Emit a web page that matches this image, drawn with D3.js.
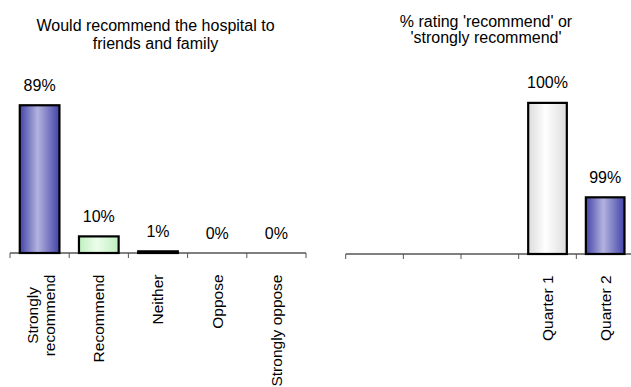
<!DOCTYPE html>
<html>
<head>
<meta charset="utf-8">
<script src="https://cdn.jsdelivr.net/npm/d3@7/dist/d3.min.js"></script>
<style>
	html, body { margin: 0; padding: 0; background: #fff; }
	svg { display: block; }
	text { font-family: Arial, "Liberation Sans", sans-serif; fill: #000; }
</style>
</head>
<body>
<div id="chart"></div>
<script>
// left chart data
const answerLabels = ['Strongly recommend', 'Recommend', 'Neither', 'Oppose', 'Strongly oppose'];
const answerValues = [89, 10, 1, 0, 0];
const answerFills = ['blue', 'green', 'blue', 'blue', 'blue'];

// right chart data (first three slots are empty)
const quarterLabels = ['', '', '', 'Quarter 1', 'Quarter 2'];
const quarterValues = [null, null, null, 100, 99];
const quarterFills = ['grey', 'grey', 'grey', 'grey', 'blue'];

const leftTitle = ['Would recommend the hospital to', 'friends and family'];
const rightTitle = ["% rating 'recommend' or", "'strongly recommend'"];

const W = 631, H = 387;
const FS = '16px';
const CAT_FS = '15.5px';
const svg = d3.select('#chart').append('svg')
	.attr('width', W)
	.attr('height', H);

const defs = svg.append('defs');
const addGrad = (id, edge, mid) => {
	const g = defs.append('linearGradient').attr('id', id)
		.attr('x1', '0%').attr('x2', '100%').attr('y1', '0%').attr('y2', '0%');
	g.append('stop').attr('offset', '0%').attr('stop-color', edge);
	g.append('stop').attr('offset', '45%').attr('stop-color', mid);
	g.append('stop').attr('offset', '100%').attr('stop-color', edge);
};
addGrad('blue', '#4343a8', '#b3b3e0');
addGrad('green', '#bff0bf', '#ecfdec');
addGrad('grey', '#dcdcdc', '#ffffff');

const drawPanel = ({ labels, values, fills, title, x0, x1, yBase, yDomain, yTop, titleX, titleY, titleGap }) => {
	const g = svg.append('g');
	const keys = labels.map((d, i) => i);
	const x = d3.scaleBand().domain(keys).range([x0, x1]).padding(0);
	const y = d3.scaleLinear().domain(yDomain).range([yBase, yTop]);
	const bw = x.bandwidth();
	const barW = bw * 0.67;

	// title
	const t = g.append('text')
		.attr('text-anchor', 'middle')
		.style('font-size', FS);
	title.forEach((line, i) => {
		t.append('tspan').attr('x', titleX).attr('y', titleY + i * titleGap).text(line);
	});

	// bars
	const data = keys.filter(i => values[i] !== null);
	g.selectAll('rect.bar')
		.data(data)
		.join('rect')
		.attr('class', 'bar')
		.attr('x', i => x(i) + (bw - barW) / 2)
		.attr('width', barW)
		.attr('y', i => y(values[i]))
		.attr('height', i => Math.max(0, yBase - y(values[i])))
		.attr('fill', i => `url(#${fills[i]})`)
		.attr('stroke', '#000')
		.attr('stroke-width', i => values[i] === yDomain[0] ? 0 : 2.2);

	// value labels
	g.selectAll('text.val')
		.data(data)
		.join('text')
		.attr('class', 'val')
		.attr('x', i => x(i) + bw / 2)
		.attr('y', i => y(values[i]) - 14.5)
		.attr('text-anchor', 'middle')
		.style('font-size', FS)
		.text(i => values[i] + '%');

	// axis: line plus ticks at category boundaries
	const axis = g.append('g').attr('transform', `translate(0,${yBase})`);
	axis.append('line')
		.attr('x1', x0).attr('x2', x1)
		.attr('stroke', '#000').attr('stroke-width', 1);
	const bounds = keys.map(i => x(i)).concat([x1]);
	axis.selectAll('line.tick')
		.data(bounds)
		.join('line')
		.attr('class', 'tick')
		.attr('x1', d => d).attr('x2', d => d)
		.attr('y1', 0).attr('y2', 5)
		.attr('stroke', '#555').attr('stroke-width', 1);

	// rotated category labels, centred as a block, longest line starting near the axis
	const labTop = yBase + 21.5;
	const lab = g.selectAll('text.cat')
		.data(keys.filter(i => labels[i]))
		.join('text')
		.attr('class', 'cat')
		.attr('text-anchor', 'middle')
		.style('font-size', CAT_FS);
	lab.each(function(i) {
		const el = d3.select(this);
		const parts = labels[i] === 'Strongly recommend' ? ['Strongly', 'recommend'] : [labels[i]];
		let maxLen = 0;
		parts.forEach((p, j) => {
			const ts = el.append('tspan')
				.attr('x', 0)
				.attr('y', (j - (parts.length - 1) / 2) * 17 + (parts.length > 1 ? 1.5 : 0))
				.attr('dy', '0.35em')
				.text(p);
			maxLen = Math.max(maxLen, ts.node().getComputedTextLength());
		});
		el.attr('transform', `translate(${x(i) + bw / 2},${labTop + maxLen / 2}) rotate(-90)`);
	});
};

drawPanel({
	labels: answerLabels, values: answerValues, fills: answerFills, title: leftTitle,
	x0: 10, x1: 306, yBase: 253, yDomain: [0, 100], yTop: 87,
	titleX: 155.5, titleY: 30.5, titleGap: 18.5
});

drawPanel({
	labels: quarterLabels, values: quarterValues, fills: quarterFills, title: rightTitle,
	x0: 345.7, x1: 634, yBase: 254, yDomain: [98.4, 100.2], yTop: 84,
	titleX: 486, titleY: 26.5, titleGap: 16.8
});
</script>
</body>
</html>
